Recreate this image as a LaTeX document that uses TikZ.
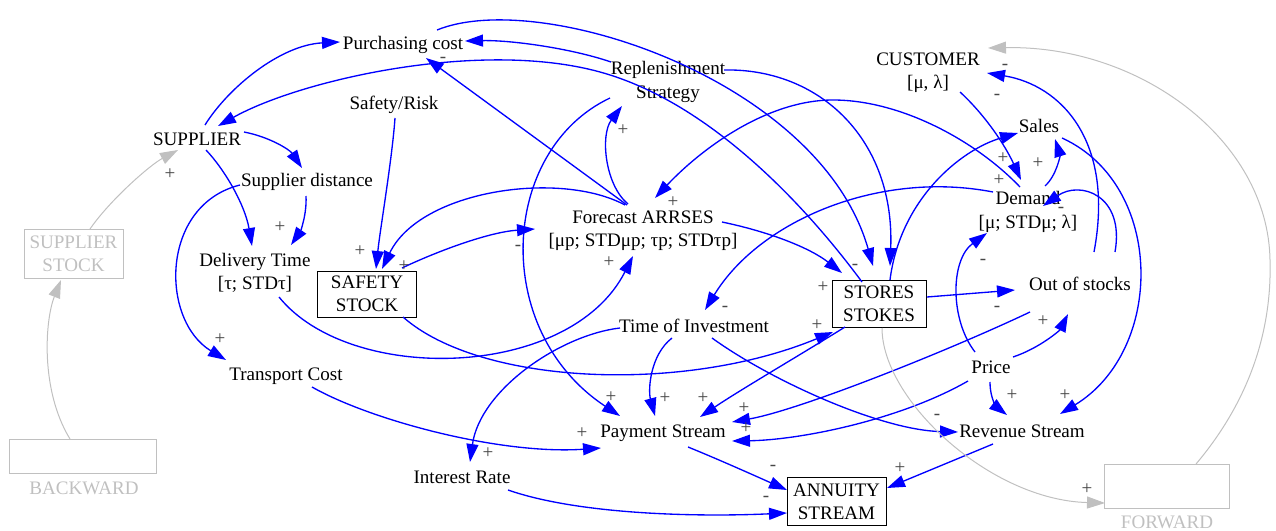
\documentclass[tikz,border=0pt]{standalone}
\usepackage{fontspec}
\setmainfont{Liberation Serif}
\usetikzlibrary{arrows.meta,calc}
\definecolor{lgray}{RGB}{192,192,192}
\definecolor{sgn}{RGB}{70,70,70}
\begin{document}
\begin{tikzpicture}[x=0.75pt,y=-0.75pt,
  font=\fontsize{14.3}{17.5}\selectfont,
  txt/.style={inner sep=0pt,align=center},
  boxnode/.style={draw,line width=0.75pt,inner sep=0pt,align=center},
  gbox/.style={draw=lgray,line width=0.75pt,inner sep=0pt,align=center,text=lgray},
  bl/.style={draw=blue,line width=1pt,-{Triangle[length=13.5pt,width=9pt]},fill=none},
  gy/.style={draw=lgray,line width=0.75pt,-{Triangle[length=13.5pt,width=9pt,fill=lgray]}},
  lab/.style={inner sep=0pt,text=sgn}]
\useasboundingbox (0,0) rectangle (1276,531);
% nodes
\node[txt] (pc) at (403,45) {Purchasing cost};
\node[txt] (rs) at (668,82) {Replenishment\\Strategy};
\node[txt] (cu) at (928,73) {CUSTOMER\\{}[μ, λ]};
\node[txt] (sr) at (394,105) {Safety/Risk};
\node[txt] (sup) at (197,139) {SUPPLIER};
\node[txt] (sa) at (1039,126) {Sales};
\node[txt] (sd) at (307,182) {Supplier distance};
\node[txt] (de) at (1028,212) {Demand\\{}[μ; STDμ; λ]};
\node[txt] (fa) at (643,231) {Forecast ARRSES\\{}[μp; STDμp; τp; STDτp]};
\node[gbox,minimum width=74.25pt,minimum height=36.75pt] (ss) at (73.5,253.5) {SUPPLIER\\STOCK};
\node[txt] (dt) at (255,273) {Delivery Time\\{}[τ; STDτ]};
\node[boxnode,minimum width=74.25pt,minimum height=34.5pt] (sfs) at (367,294) {SAFETY\\STOCK};
\node[boxnode,minimum width=70.5pt,minimum height=35pt] (st) at (879,304) {STORES\\STOKES};
\node[txt] (os) at (1080,284) {Out of stocks};
\node[txt] (ti) at (694,326) {Time of Investment};
\node[txt] (tc) at (286,376) {Transport Cost};
\node[txt] (pr) at (991,367) {Price};
\node[txt] (ps) at (663,433) {Payment Stream};
\node[txt] (rv) at (1022,431) {Revenue Stream};
\node[gbox,minimum width=110.25pt,minimum height=25.5pt] (bw) at (82.5,456) {};
\node[txt,text=lgray] (bwl) at (84,488) {BACKWARD};
\node[txt] (ir) at (462,477) {Interest Rate};
\node[boxnode,minimum width=74.25pt,minimum height=36pt] (an) at (836.5,501.5) {ANNUITY\\STREAM};
\node[gbox,minimum width=93.75pt,minimum height=33pt] (fw) at (1166.5,486) {};
\node[txt,text=lgray] (fwl) at (1167,522) {FORWARD};
% blue connectors
\draw[bl] ($(sup)+(8,-14)$) .. controls (228,88) and (280,45) .. ($(pc)+(-63,-3)$);
\draw[bl] ($(rs)+(-57,-20)$) .. controls (570,48) and (510,40) .. ($(pc)+(62,-4)$);
\draw[bl] ($(fa)+(-16,-26)$) -- ($(pc)+(23,13)$);
\draw[bl] ($(st)+(-17,-22)$) .. controls (820,225) and (720,105) .. (600,72) .. controls (480,39) and (300,80) .. ($(sup)+(21,-13)$);
\draw[bl] ($(pc)+(34,-15)$) .. controls (540,-12) and (820,80) .. ($(st)+(-6,-38)$);
\draw[bl] ($(rs)+(56,-12)$) .. controls (820,68) and (895,140) .. ($(st)+(11,-38)$);
\draw[bl] ($(fa)+(79,-9)$) .. controls (770,232) and (810,248) .. ($(st)+(-37,-31)$);
\draw[bl] ($(de)+(-8,-25)$) .. controls (975,140) and (900,100) .. (833,100) .. controls (766,100) and (700,150) .. ($(fa)+(12,-33)$);
\draw[bl] ($(de)+(-35,-20)$) .. controls (880,170) and (760,220) .. ($(ti)+(11,-16)$);
\draw[bl] ($(ti)+(-22,12)$) .. controls (650,355) and (648,390) .. ($(ps)+(-8,-17)$);
\draw[bl] ($(ti)+(-74,2)$) .. controls (560,335) and (480,390) .. ($(ir)+(8,-15)$);
\draw[bl] ($(ti)+(18,12)$) .. controls (770,380) and (880,430) .. ($(rv)+(-64,1)$);
\draw[bl] ($(rs)+(-58,16)$) .. controls (500,150) and (490,330) .. ($(ps)+(-43,-17)$);
\draw[bl] ($(st)+(-34,23)$) .. controls (800,355) and (740,390) .. ($(ps)+(37,-16)$);
\draw[bl] ($(sfs)+(36,23)$) .. controls (480,385) and (683,394) .. ($(st)+(-46,28)$);
\draw[bl] ($(dt)+(24,24)$) .. controls (350,385) and (570,380) .. ($(fa)+(-10,25)$);
\draw[bl] ($(tc)+(26,11)$) .. controls (370,420) and (500,455) .. ($(ps)+(-62,15)$);
\draw[bl] ($(sd)+(-67,3)$) .. controls (160,205) and (160,320) .. ($(tc)+(-60,-16)$);
\draw[bl] ($(sd)+(-1,14)$) .. controls (307,215) and (300,232) .. ($(dt)+(36,-28)$);
\draw[bl] ($(sup)+(9,11)$) .. controls (225,170) and (245,205) .. ($(dt)+(-3,-27)$);
\draw[bl] ($(sup)+(47,-7)$) .. controls (270,137) and (290,150) .. ($(sd)+(-5,-14)$);
\draw[bl] ($(sr)+(1,13)$) .. controls (392,160) and (380,230) .. ($(sfs)+(9,-25)$);
\draw[bl] ($(fa)+(-18,-26)$) .. controls (560,170) and (420,190) .. ($(sfs)+(15,-25)$);
\draw[bl] ($(sfs)+(35,-26)$) .. controls (440,250) and (490,232) .. ($(fa)+(-108,-2)$);
\draw[bl] ($(fa)+(-15,-27)$) .. controls (605,185) and (600,135) .. ($(rs)+(-46,24)$);
\draw[bl] ($(de)+(17,-26)$) .. controls (1057,175) and (1060,155) .. ($(sa)+(16,13)$);
\draw[bl] ($(st)+(11,-24)$) .. controls (900,200) and (960,150) .. ($(sa)+(-21,7)$);
\draw[bl] ($(cu)+(32,19)$) .. controls (985,115) and (1005,145) .. ($(de)+(-7,-32)$);
\draw[bl] ($(os)+(35,-32)$) .. controls (1125,195) and (1080,180) .. ($(de)+(15,-6)$);
\draw[bl] ($(os)+(14,-32)$) .. controls (1115,140) and (1060,85) .. ($(cu)+(59,0)$);
\draw[bl] ($(sa)+(23,12)$) .. controls (1165,185) and (1165,350) .. ($(rv)+(38,-17)$);
\draw[bl] ($(st)+(48,-7)$) -- ($(os)+(-65,6)$);
\draw[bl] ($(pr)+(22,-10)$) .. controls (1040,348) and (1060,330) .. ($(os)+(-12,30)$);
\draw[bl] ($(pr)+(-16,-15)$) .. controls (950,320) and (950,260) .. ($(de)+(-41,21)$);
\draw[bl] ($(pr)+(-1,15)$) .. controls (990,400) and (998,408) .. ($(rv)+(-15,-16)$);
\draw[bl] ($(pr)+(-23,14)$) .. controls (900,420) and (800,440) .. ($(ps)+(69,8)$);
\draw[bl] ($(os)+(-50,28)$) .. controls (950,350) and (800,410) .. ($(ps)+(69,-11)$);
\draw[bl] ($(ps)+(25,14)$) .. controls (720,460) and (760,478) .. ($(an)+(-49.5,-11.5)$);
\draw[bl] ($(ir)+(46,13)$) .. controls (580,515) and (700,517) .. ($(an)+(-49.5,11.5)$);
\draw[bl] ($(rv)+(-29,13)$) -- ($(an)+(50.5,-13.5)$);
% gray connectors
\draw[gy] ($(ss)+(16.5,-24.5)$) .. controls (110,200) and (150,165) .. ($(sup)+(-19,11)$);
\draw[gy] ($(bw)+(-12.5,-17)$) .. controls (40,390) and (45,320) .. ($(ss)+(-12.5,26.5)$);
\draw[gy] ($(st)+(3,24)$) .. controls (882,400) and (990,500) .. ($(fw)+(-61.5,17)$);
\draw[gy] ($(fw)+(29.5,-22)$) .. controls (1250,400) and (1272,330) .. (1270,260) .. controls (1268,140) and (1140,45) .. ($(cu)+(60,-25)$);
% sign labels
\node[lab] (l1) at (170,174) {+};
\node[lab] (l2) at (443,60) {-};
\node[lab] (l3) at (623,130) {+};
\node[lab] (l4) at (673,202) {+};
\node[lab] (l5) at (360,251) {+};
\node[lab] (l6) at (404,266) {+};
\node[lab] (l7) at (280,227) {+};
\node[lab] (l8) at (220,339) {+};
\node[lab] (l9) at (518,248) {-};
\node[lab] (l10) at (609,262) {+};
\node[lab] (l11) at (855,267) {-};
\node[lab] (l12) at (823,287) {+};
\node[lab] (l13) at (817,325) {+};
\node[lab] (l14) at (725,309) {-};
\node[lab] (l15) at (611,397) {+};
\node[lab] (l16) at (665,398) {+};
\node[lab] (l17) at (703,398) {+};
\node[lab] (l18) at (744,408) {+};
\node[lab] (l19) at (746,428) {+};
\node[lab] (l20) at (582,433) {+};
\node[lab] (l21) at (488,453) {+};
\node[lab] (l22) at (773,468) {-};
\node[lab] (l23) at (766,499) {-};
\node[lab] (l24) at (900,468) {+};
\node[lab] (l25) at (937,417) {-};
\node[lab] (l26) at (1012,395) {+};
\node[lab] (l27) at (1065,395) {+};
\node[lab] (l28) at (1043,321) {+};
\node[lab] (l29) at (997,309) {-};
\node[lab] (l30) at (983,262) {-};
\node[lab] (l31) at (1061,210) {-};
\node[lab] (l32) at (1038,163) {+};
\node[lab] (l33) at (1003,158) {+};
\node[lab] (l34) at (999,180) {+};
\node[lab] (l35) at (1005,67) {-};
\node[lab] (l36) at (997,97) {-};
\node[lab] (l37) at (1087,489) {+};
\end{tikzpicture}
\end{document}
